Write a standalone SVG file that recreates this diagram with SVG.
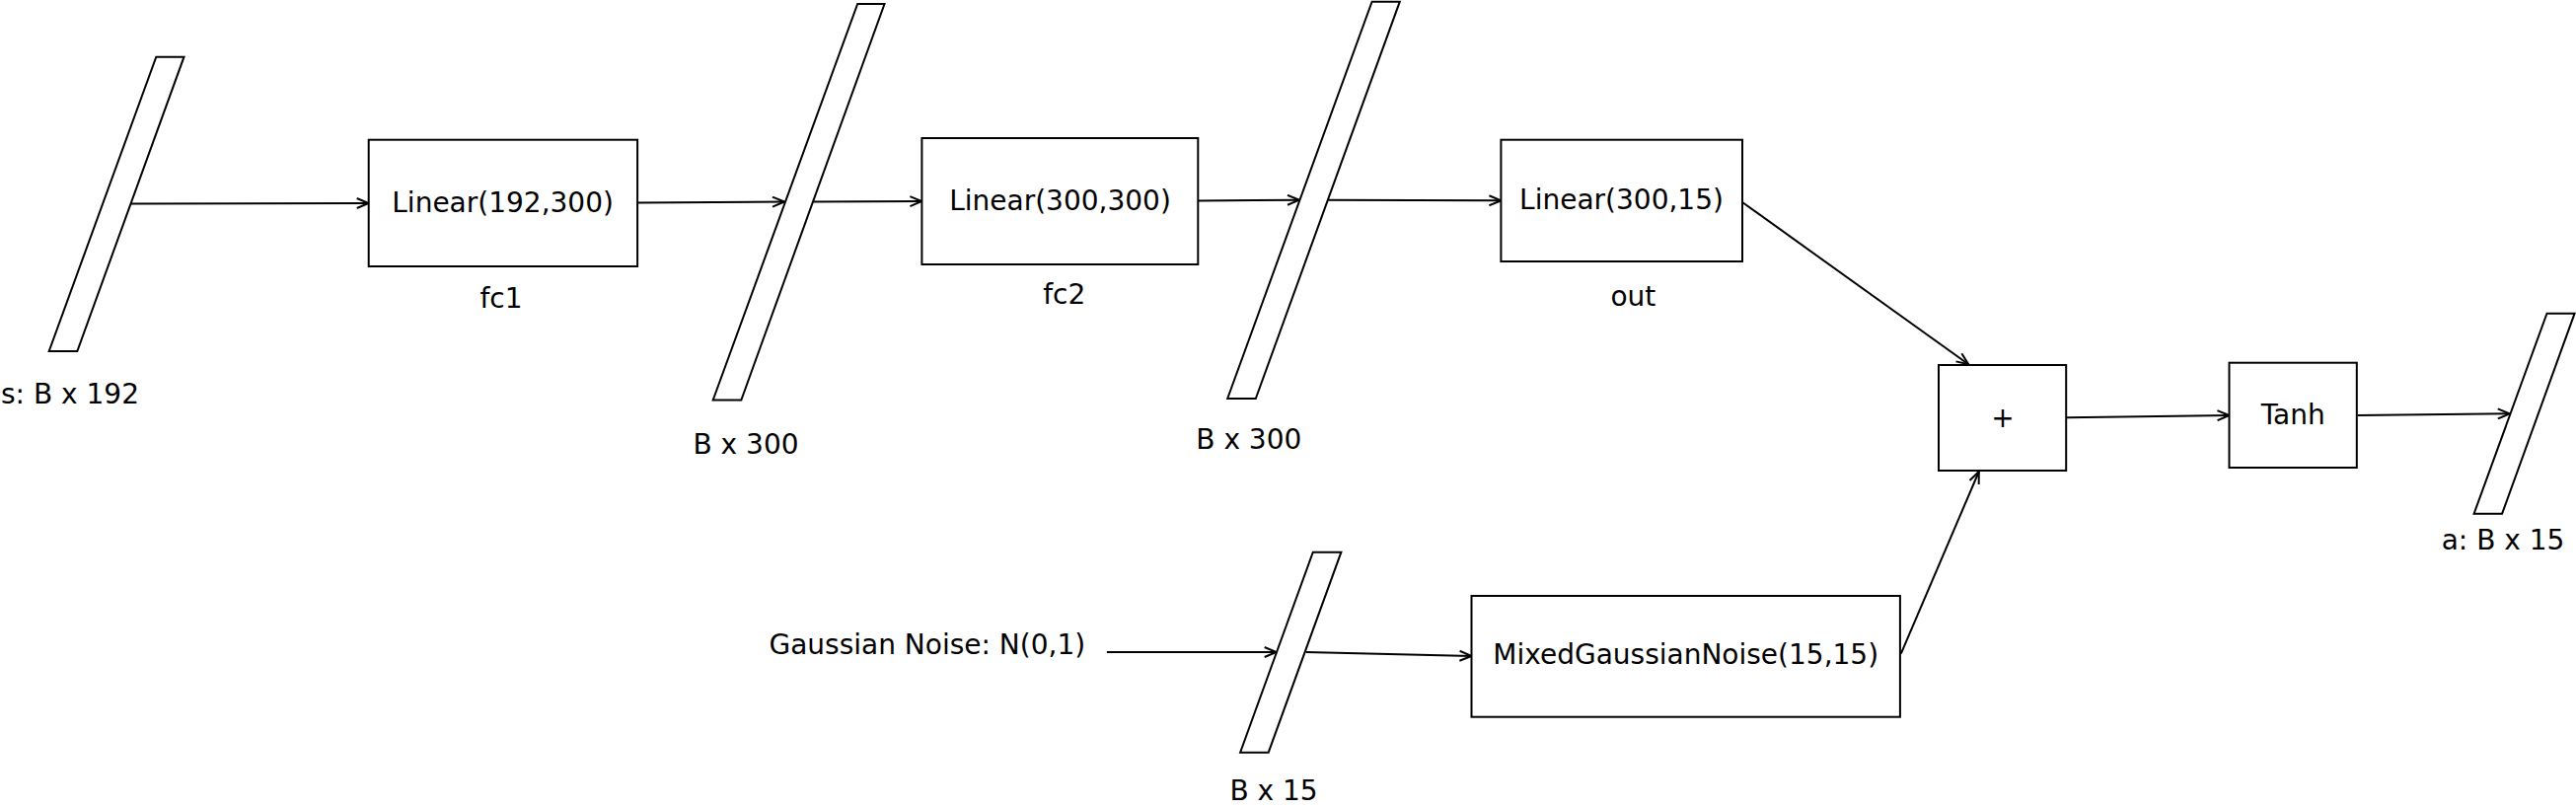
<svg xmlns="http://www.w3.org/2000/svg" width="2611" height="819" viewBox="0 0 2611 819">
<style>
.n{fill:#fff;stroke:#000;stroke-width:2}
.t{font-family:"DejaVu Sans",sans-serif;font-size:28px;fill:#000}
.c{text-anchor:middle}
.e{fill:none;stroke:#000;stroke-width:2;marker-end:url(#a)}
</style>
<defs>
<marker id="a" markerUnits="userSpaceOnUse" markerWidth="14" markerHeight="12" viewBox="0 0 14 12" refX="13" refY="6" orient="auto">
<path d="M1,1 L13,6 L1,11" fill="none" stroke="#000" stroke-width="2"/>
</marker>
</defs>
<rect width="2611" height="819" fill="#fff"/>
<g id="connectors">
<line class="e" x1="132.6" y1="206.5" x2="373.7" y2="206"/>
<line class="e" x1="646" y1="205.5" x2="795" y2="204.5"/>
<line class="e" x1="823.3" y1="204.5" x2="934.4" y2="204"/>
<line class="e" x1="1214.3" y1="203.5" x2="1317" y2="202.7"/>
<line class="e" x1="1345" y1="202.7" x2="1521.4" y2="203.3"/>
<line class="e" x1="1766" y1="205" x2="1995.2" y2="369.3"/>
<line class="e" x1="1121.9" y1="661" x2="1293.7" y2="661"/>
<line class="e" x1="1323.6" y1="661" x2="1491.5" y2="665"/>
<line class="e" x1="1926.8" y1="662.7" x2="2005.8" y2="478"/>
<line class="e" x1="2095" y1="423.3" x2="2259.5" y2="421"/>
<line class="e" x1="2389.7" y1="421" x2="2543.8" y2="419.3"/>
</g>
<g id="s_input">
<polygon class="n" points="158.3,57.7 186.5,57.7 78.3,356 49.7,356"/>
<text class="t" x="1" y="409.3">s: B x 192</text>
</g>
<g id="fc1">
<rect class="n" x="373.7" y="141.7" width="272.4" height="128.3"/>
<text class="t c" x="509.6" y="215">Linear(192,300)</text>
<text class="t c" x="508" y="311.7">fc1</text>
</g>
<g id="h1">
<polygon class="n" points="869.2,4 896.5,4 751.3,405.5 722.7,405.5"/>
<text class="t c" x="756" y="460">B x 300</text>
</g>
<g id="fc2">
<rect class="n" x="934.4" y="140" width="279.9" height="128"/>
<text class="t c" x="1074.5" y="213.3">Linear(300,300)</text>
<text class="t c" x="1078.8" y="308.3">fc2</text>
</g>
<g id="h2">
<polygon class="n" points="1390.6,1.7 1418.8,1.7 1272.8,404 1244.2,404"/>
<text class="t c" x="1265.8" y="455">B x 300</text>
</g>
<g id="out">
<rect class="n" x="1521.4" y="141.7" width="244.6" height="123.3"/>
<text class="t c" x="1643.5" y="211.7">Linear(300,15)</text>
<text class="t c" x="1655.4" y="310">out</text>
</g>
<g id="noise_label">
<text class="t" x="779.5" y="663.3">Gaussian Noise: N(0,1)</text>
</g>
<g id="noise">
<polygon class="n" points="1330.8,559.7 1359.4,559.7 1285.7,762.7 1257.1,762.7"/>
<text class="t c" x="1291" y="810.7">B x 15</text>
</g>
<g id="mgn">
<rect class="n" x="1491.5" y="604" width="434.4" height="122.7"/>
<text class="t c" x="1708.7" y="673.3">MixedGaussianNoise(15,15)</text>
</g>
<g id="plus">
<rect class="n" x="1965" y="370" width="129.2" height="107"/>
<text class="t c" x="2030" y="433">+</text>
</g>
<g id="tanh">
<rect class="n" x="2259.5" y="367.7" width="129.3" height="106.3"/>
<text class="t c" x="2324.2" y="430">Tanh</text>
</g>
<g id="a_output">
<polygon class="n" points="2581.5,317.7 2609.6,317.7 2536.1,520.7 2507.6,520.7"/>
<text class="t c" x="2537" y="556.7">a: B x 15</text>
</g>
</svg>
